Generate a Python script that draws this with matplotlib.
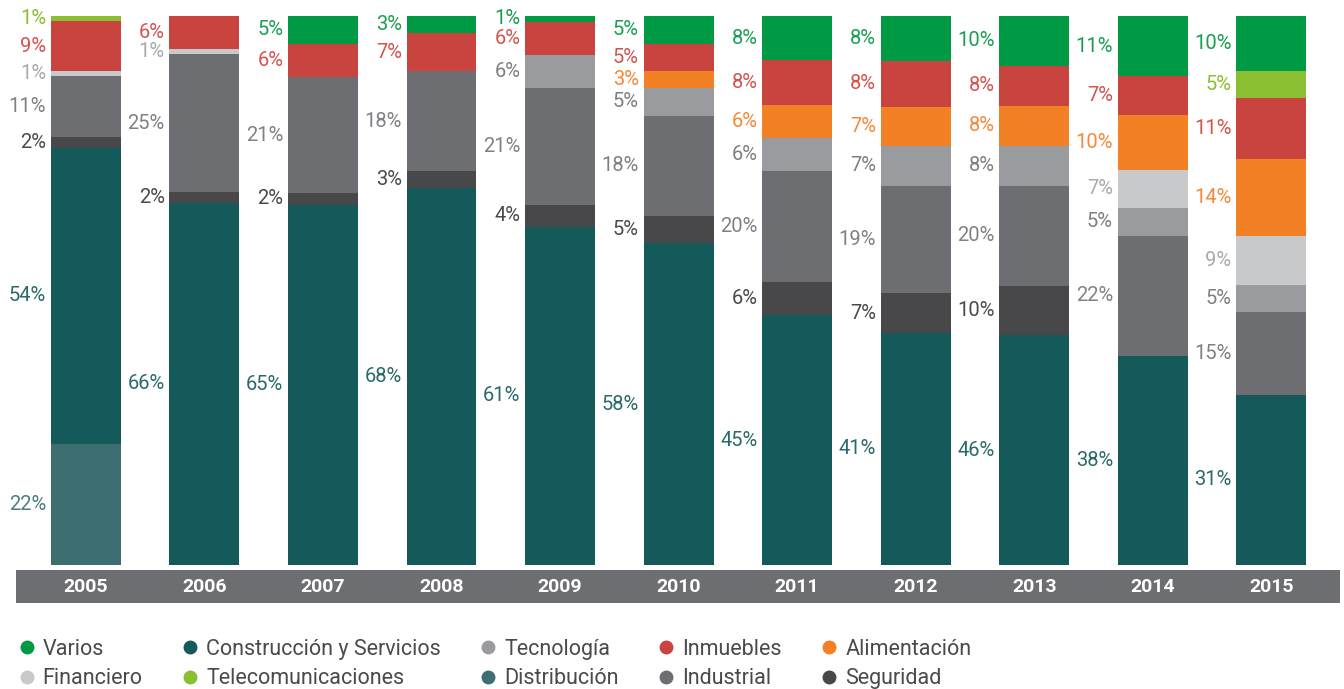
import matplotlib.pyplot as plt
from matplotlib.lines import Line2D
import numpy as np

# data (percent of each year)
years = ['2005', '2006', '2007', '2008', '2009', '2010',
         '2011', '2012', '2013', '2014', '2015']
distribucion = [22, 0, 0, 0, 0, 0, 0, 0, 0, 0, 0]
construccion = [54, 66, 65, 68, 61, 58, 45, 41, 46, 38, 31]
seguridad = [2, 2, 2, 3, 4, 5, 6, 7, 10, 0, 0]
industrial = [11, 25, 21, 18, 21, 18, 20, 19, 20, 22, 15]
tecnologia = [0, 0, 0, 0, 6, 5, 6, 7, 8, 5, 5]
financiero = [1, 1, 0, 0, 0, 0, 0, 0, 0, 7, 9]
alimentacion = [0, 0, 0, 0, 0, 3, 6, 7, 8, 10, 14]
inmuebles = [9, 6, 6, 7, 6, 5, 8, 8, 8, 7, 11]
telecom = [1, 0, 0, 0, 0, 0, 0, 0, 0, 0, 5]
varios = [0, 0, 5, 3, 1, 5, 8, 8, 10, 11, 10]

# stack order bottom -> top: (values, bar colour, label colour)
stack = [
    (distribucion, '#3D6E70', '#4C7E80'),
    (construccion, '#155A5A', '#2A6A6A'),
    (seguridad, '#48484A', '#4A4A4C'),
    (industrial, '#6D6E72', '#808185'),
    (tecnologia, '#9A9B9E', '#7E7F82'),
    (financiero, '#C8C9CA', '#A9AAAC'),
    (alimentacion, '#F28024', '#F5893A'),
    (inmuebles, '#C9443F', '#D5534D'),
    (telecom, '#8ABF31', '#8ABF31'),
    (varios, '#009A44', '#1A9E50'),
]

plt.rcParams['font.family'] = ['Roboto', 'DejaVu Sans']

W, H = 1344, 689
fig = plt.figure(figsize=(W / 100, H / 100), dpi=100)

# main bars axis: 16..1340 px wide, 16..565 px tall
ax = fig.add_axes([16 / W, 1 - 565 / H, 1324 / W, 549 / H])
x = np.arange(len(years))
bar_w = 0.59
totals = np.sum([s[0] for s in stack], axis=0)
bottom = np.zeros(len(years))
for vals, col, lcol in stack:
    vals = np.array(vals, dtype=float)
    h = vals / totals * 100
    ax.bar(x, h, bottom=bottom, width=bar_w, color=col, linewidth=0)
    for i in range(len(years)):
        if vals[i] > 0:
            ax.text(x[i] - bar_w / 2 - 0.04, bottom[i] + h[i] / 2,
                    '%d%%' % vals[i], ha='right', va='center',
                    fontsize=14.5, color=lcol)
    bottom += h

ax.set_xlim(-0.59, 10.58)
ax.set_ylim(0, 100)
ax.axis('off')

# grey year band
band = fig.add_axes([16 / W, 1 - 603 / H, 1324 / W, 33 / H])
band.set_facecolor('#6D6E72')
band.set_xlim(ax.get_xlim())
band.set_ylim(0, 1)
for i, yr in enumerate(years):
    band.text(i, 0.5, yr, ha='center', va='center', color='white',
              fontsize=14, fontweight='bold')
band.set_xticks([])
band.set_yticks([])
for sp in band.spines.values():
    sp.set_visible(False)

# legend, filled column by column
legend_items = [
    ('Varios', '#009A44'), ('Financiero', '#C8C9CA'),
    ('Construcción y Servicios', '#155A5A'), ('Telecomunicaciones', '#8ABF31'),
    ('Tecnología', '#9A9B9E'), ('Distribución', '#3D6E70'),
    ('Inmuebles', '#C9443F'), ('Industrial', '#6D6E72'),
    ('Alimentación', '#F28024'), ('Seguridad', '#48484A'),
]
handles = [Line2D([], [], marker='o', linestyle='none', markersize=9,
                  markerfacecolor=c, markeredgecolor=c)
           for _, c in legend_items]
leg = fig.legend(handles, [n for n, _ in legend_items], ncol=5,
                 loc='upper left', bbox_to_anchor=(5 / W, 1 - 628 / H),
                 frameon=False, fontsize=15.5, handletextpad=0.25,
                 columnspacing=1.7, labelspacing=0.4, handlelength=1.0,
                 borderpad=0)
for t in leg.get_texts():
    t.set_color('#4A4A4C')

fig.savefig('out.png', dpi=100)
